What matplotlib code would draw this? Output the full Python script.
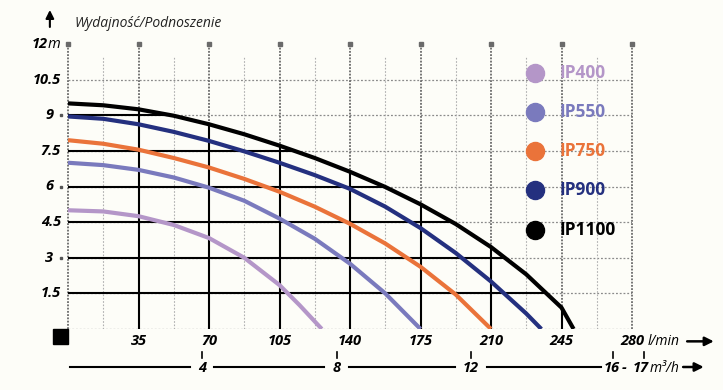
import numpy as np
import matplotlib.pyplot as plt
from matplotlib.patches import Rectangle

# flow (l/min) and head (m)
ip400_q = [0, 17.5, 35, 52.5, 70, 87.5, 105, 115, 126]
ip400_h = [5.0, 4.95, 4.75, 4.38, 3.83, 3.0, 1.85, 1.0, 0]

ip550_q = [0, 17.5, 35, 52.5, 70, 87.5, 105, 122.5, 140, 157.5, 175]
ip550_h = [7.0, 6.9, 6.7, 6.38, 5.95, 5.4, 4.65, 3.8, 2.75, 1.5, 0]

ip750_q = [0, 17.5, 35, 52.5, 70, 87.5, 105, 122.5, 140, 157.5, 175, 192.5, 210]
ip750_h = [7.95, 7.8, 7.55, 7.2, 6.8, 6.32, 5.78, 5.15, 4.43, 3.6, 2.62, 1.45, 0]

ip900_q = [0, 17.5, 35, 52.5, 70, 87.5, 105, 122.5, 140, 157.5, 175, 192.5, 210, 227.5, 235]
ip900_h = [8.95, 8.85, 8.62, 8.3, 7.92, 7.48, 7.0, 6.48, 5.9, 5.15, 4.25, 3.2, 2.0, 0.65, 0]

ip1100_q = [0, 17.5, 35, 52.5, 70, 87.5, 105, 122.5, 140, 157.5, 175, 192.5, 210, 227.5, 245, 251]
ip1100_h = [9.5, 9.42, 9.25, 8.98, 8.62, 8.2, 7.72, 7.2, 6.62, 5.98, 5.25, 4.42, 3.45, 2.3, 0.9, 0]

names = ['IP400', 'IP550', 'IP750', 'IP900', 'IP1100']
colors = ['#b496c8', '#7a7abd', '#ea733a', '#24307f', '#000000']

y_ticks = [1.5, 3, 4.5, 6, 7.5, 9, 10.5]
x_ticks = [35, 70, 105, 140, 175, 210, 245, 280]
x_minor = [17.5, 52.5, 87.5, 122.5, 157.5, 192.5, 227.5, 262.5]
m3h_ticks = [4, 8, 12]

bg = '#fdfdf8'
fam = 'Open Sans'

fig = plt.figure(figsize=(7.23, 3.9), dpi=100, facecolor=bg)
ax = fig.add_axes([68 / 723, 61 / 390, 564 / 723, 285 / 390])
ax.set_facecolor(bg)
ax.set_xlim(0, 280)
ax.set_ylim(0, 12)
ax.axis('off')

# dotted background grid
for h in y_ticks:
    ax.plot([0, 280], [h, h], color='#8a8a8a', lw=0.9, ls=(0, (1.5, 1.5)), zorder=1)
ax.plot([0, 280], [0, 0], color='#8a8a8a', lw=0.9, ls=(0, (1.5, 1.5)), zorder=1)
for q in x_minor:
    ax.plot([q, q], [0, 11.5], color='#b0b0b0', lw=0.8, ls=(0, (1.5, 1.5)), zorder=1)
for q in [0] + x_ticks:
    ax.plot([q, q], [0, 12], color='#6a6a6a', lw=1.3, ls=(0, (1, 0.8)), zorder=1, clip_on=False)
    ax.plot(q, 12, 's', ms=3, color='#6a6a6a', clip_on=False, zorder=2)

# solid grid below the biggest pump curve
top_q = np.array(ip1100_q)
top_h = np.array(ip1100_h)
for h in y_ticks:
    if h < top_h[0]:
        qe = np.interp(h, top_h[::-1], top_q[::-1])
        ax.plot([0, qe], [h, h], color='black', lw=1.5, zorder=2, solid_capstyle='butt')
for q in x_ticks:
    he = np.interp(q, top_q, top_h)
    if he > 0:
        ax.plot([q, q], [0, he], color='black', lw=1.5, zorder=2, solid_capstyle='butt')

# pump curves
series = [(ip400_q, ip400_h), (ip550_q, ip550_h), (ip750_q, ip750_h),
          (ip900_q, ip900_h), (ip1100_q, ip1100_h)]
for (q, h), c in zip(series, colors):
    ax.plot(q, h, color=c, lw=3, zorder=3, solid_capstyle='butt', solid_joinstyle='round')

# legend
for i, (n, c) in enumerate(zip(names, colors)):
    yy = 0.9 - i * 0.138
    ax.plot(0.828, yy, 'o', ms=13, color=c, transform=ax.transAxes, zorder=4)
    ax.text(0.872, yy, n, color=c, fontsize=12.5, fontweight='bold', family=fam,
            transform=ax.transAxes, va='center', ha='left', zorder=4)

# y labels
lab = dict(fontweight='bold', style='italic', family=fam, fontsize=10.5, clip_on=False)
for h in y_ticks:
    s = f'{h:g}'
    if '.' in s:
        ax.text(-3.5, h, s, ha='right', va='center', **lab)
    else:
        ax.text(-7.5, h, s, ha='right', va='center', **lab)
        ax.plot(-3.5, h, 's', ms=1.5, color='#555', clip_on=False)
ax.text(-10, 12, '12', ha='right', va='center', **lab)
ax.text(-10, 12, 'm', ha='left', va='center', style='italic', family=fam,
        fontsize=10.5, clip_on=False)
ax.annotate('', xy=(-9, 13.55), xytext=(-9, 12.6), annotation_clip=False,
            arrowprops=dict(arrowstyle='-|>', color='black', lw=1.5, mutation_scale=12))
ax.text(3, 12.85, 'Wydajność/Podnoszenie', ha='left', va='center', style='italic',
        family=fam, fontsize=10, color='#222', clip_on=False)

# l/min axis
for q in x_ticks:
    ax.text(q, -0.52, f'{q:g}', ha='center', va='center', **lab)
ax.text(288, -0.52, 'l/min', ha='left', va='center', style='italic', family=fam,
        fontsize=10, clip_on=False)
ax.annotate('', xy=(322, -0.52), xytext=(306, -0.52), annotation_clip=False,
            arrowprops=dict(arrowstyle='-|>', color='black', lw=1.8, mutation_scale=13))
ax.add_patch(Rectangle((-7.5, -0.65), 7.5, 0.65, color='black', clip_on=False))

# m3/h axis
yr = -1.6
start = 1
for m in m3h_ticks:
    q = m * 1000 / 60
    gap = 6 if m < 10 else 8
    ax.plot([start, q - gap], [yr, yr], color='black', lw=1.5, clip_on=False)
    ax.plot([q, q], [-0.98, -1.2], color='black', lw=1.2, clip_on=False)
    ax.text(q, yr - 0.05, str(m), ha='center', va='center', **lab)
    start = q + gap
q16 = 16 * 1000 / 60
q17 = 17 * 1000 / 60
ax.plot([start, q16 - 2], [yr, yr], color='black', lw=1.5, clip_on=False)
ax.plot([q16 + 4, q16 + 4], [-0.98, -1.2], color='black', lw=1.2, clip_on=False)
ax.plot([q17 + 2.5, q17 + 2.5], [-0.98, -1.2], color='black', lw=1.2, clip_on=False)
ax.text(q16 + 3.5, yr - 0.05, '16', ha='center', va='center', **lab)
ax.text(q16 + 9.5, yr - 0.05, '-', ha='center', va='center', **lab)
ax.text(q17 + 1, yr - 0.05, '17', ha='center', va='center', **lab)
ax.text(q17 + 5.5, yr - 0.05, 'm³/h', ha='left', va='center', style='italic',
        family=fam, fontsize=10, clip_on=False)
ax.annotate('', xy=(317, yr), xytext=(304, yr), annotation_clip=False,
            arrowprops=dict(arrowstyle='-|>', color='black', lw=1.8, mutation_scale=13))

fig.savefig('out.png', dpi=100, facecolor=bg)
